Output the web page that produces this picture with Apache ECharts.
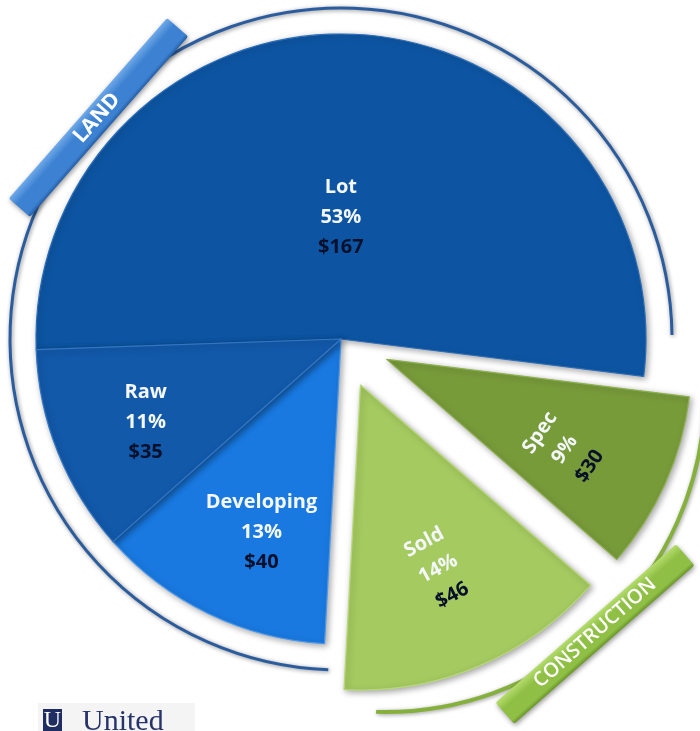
<!DOCTYPE html>
<html>
<head>
<meta charset="utf-8">
<script src="https://cdn.jsdelivr.net/npm/echarts@6/dist/echarts.min.js"></script>
<style>
  html, body { margin: 0; padding: 0; background: #ffffff; }
  #chart { width: 700px; height: 731px; }
</style>
</head>
<body>
<div id="chart"></div>
<script>
// Portfolio split ($ millions), slices listed clockwise from nine o'clock
const categories = ['Lot', 'Spec', 'Sold', 'Developing', 'Raw'];
const amounts = [167, 30, 46, 40, 35];
const exploded = ['Spec', 'Sold'];          // construction slices pulled out
const groupLabels = ['LAND', 'CONSTRUCTION'];
const brandName = 'United';

const sliceColors = {
  Lot: '#0d55a3',
  Spec: '#789b3a',
  Sold: '#a5ca60',
  Developing: '#1979e0',
  Raw: '#1259aa'
};
const sliceEdges = {
  Lot: '#2a6cb8',
  Spec: '#8db04e',
  Sold: '#b8d978',
  Developing: '#4a98ee',
  Raw: '#3276c4'
};
// label rotation (deg) and nudge from the default inside anchor
// (the nudge is applied in the label's own, rotated frame)
const labelRotate = { Spec: 56, Sold: 28 };
const labelNudge = {
  Lot: [-7, 34],
  Spec: [-2, 45],
  Sold: [-4, 44],
  Developing: [-12, 53],
  Raw: [-51, 26]
};

const CX = 341, CY = 339, R = 305;
const deg = Math.PI / 180;

const chart = echarts.init(document.getElementById('chart'), null, { renderer: 'canvas' });

const pieData = categories.map((name, i) => {
  const item = {
    name: name,
    value: amounts[i],
    selected: exploded.indexOf(name) >= 0,
    itemStyle: { color: sliceColors[name], borderColor: sliceEdges[name] }
  };
  if (labelRotate[name] !== undefined) {
    item.label = { rotate: labelRotate[name] };
  }
  return item;
});

function tabFill(light, mid, dark) {
  return new echarts.graphic.LinearGradient(0, 0, 0, 1, [
    { offset: 0, color: light },
    { offset: 0.35, color: mid },
    { offset: 0.85, color: mid },
    { offset: 1, color: dark }
  ]);
}

const option = {
  backgroundColor: '#ffffff',
  animation: false,
  graphic: [
    // outline around the land slices
    {
      type: 'arc', z: 1,
      shape: { cx: CX, cy: CY, r: 331, startAngle: 92.2 * deg, endAngle: 359.3 * deg, clockwise: true },
      style: { stroke: '#2b5d9e', lineWidth: 3, fill: null,
               shadowBlur: 4, shadowColor: 'rgba(0,0,0,0.45)', shadowOffsetX: 1, shadowOffsetY: 1 }
    },
    // outline around the construction slices
    {
      type: 'arc', z: 1,
      shape: { cx: 385, cy: 392, r: 320, startAngle: 2.4 * deg, endAngle: 91.6 * deg, clockwise: true },
      style: { stroke: '#86b03e', lineWidth: 4, fill: null,
               shadowBlur: 4, shadowColor: 'rgba(0,0,0,0.4)', shadowOffsetX: 1, shadowOffsetY: 1 }
    },
    // LAND tab
    {
      type: 'rect', z: 3,
      x: 98.5, y: 117.5, rotation: 48.7 * deg,
      shape: { x: -120, y: -14, width: 240, height: 28, r: 2 },
      style: { fill: tabFill('#6fa9e8', '#3d82d2', '#245ea8'),
               shadowBlur: 5, shadowColor: 'rgba(0,0,0,0.4)', shadowOffsetX: 1, shadowOffsetY: 2 }
    },
    {
      type: 'text', z: 4,
      x: 97, y: 118, rotation: 48.7 * deg,
      style: { text: groupLabels[0], fill: '#ffffff', font: 'bold 21px "Open Sans", sans-serif',
               align: 'center', verticalAlign: 'middle' }
    },
    // CONSTRUCTION tab
    {
      type: 'rect', z: 3,
      x: 595, y: 634, rotation: 41.3 * deg,
      shape: { x: -120, y: -14, width: 240, height: 28, r: 2 },
      style: { fill: tabFill('#b4dc6c', '#8fbf45', '#6a9628'),
               shadowBlur: 5, shadowColor: 'rgba(0,0,0,0.4)', shadowOffsetX: 1, shadowOffsetY: 2 }
    },
    {
      type: 'text', z: 4,
      x: 595, y: 633, rotation: 41.3 * deg,
      style: { text: groupLabels[1], fill: '#ffffff', font: '600 20px "Open Sans", sans-serif',
               align: 'center', verticalAlign: 'middle' }
    },
    // brand mark
    {
      type: 'rect', z: 1,
      shape: { x: 38, y: 703, width: 157, height: 30 },
      style: { fill: '#f4f4f5' }
    },
    {
      type: 'rect', z: 2,
      shape: { x: 43, y: 709, width: 19, height: 24 },
      style: { fill: '#1f2d62' }
    },
    {
      type: 'text', z: 3,
      x: 52.5, y: 733,
      style: { text: 'U', fill: '#ffffff', font: '24px "Liberation Serif", serif',
               align: 'center', verticalAlign: 'bottom' }
    },
    {
      type: 'text', z: 3,
      x: 82, y: 737,
      style: { text: brandName, fill: '#27346a', font: '30px "Liberation Serif", serif',
               align: 'left', verticalAlign: 'bottom' }
    }
  ],
  series: [
    {
      type: 'pie',
      center: [CX, CY],
      radius: R,
      startAngle: 182,
      clockwise: true,
      percentPrecision: 0,
      selectedMode: 'multiple',
      selectedOffset: 50,
      silent: true,
      z: 2,
      itemStyle: {
        borderWidth: 1.2,
        shadowBlur: 6,
        shadowColor: 'rgba(0,0,0,0.35)',
        shadowOffsetX: 2,
        shadowOffsetY: 2
      },
      select: { itemStyle: {} },
      emphasis: { disabled: true },
      label: {
        show: true,
        position: 'inside',
        formatter: p => `{w|${p.name}}\n{w|${p.percent}%}\n{k|$${p.value}}`,
        rich: {
          w: { color: '#f4f8fc', fontFamily: '"Open Sans", sans-serif', fontWeight: 'bold',
               fontSize: 20, lineHeight: 30, align: 'center' },
          k: { color: '#06102a', fontFamily: '"Open Sans", sans-serif', fontWeight: 'bold',
               fontSize: 20, lineHeight: 30, align: 'center' }
        }
      },
      labelLine: { show: false },
      labelLayout: function (params) {
        const n = labelNudge[categories[params.dataIndex]] || [0, 0];
        return { dx: n[0], dy: n[1] };
      },
      data: pieData
    }
  ]
};

chart.setOption(option);
</script>
</body>
</html>
